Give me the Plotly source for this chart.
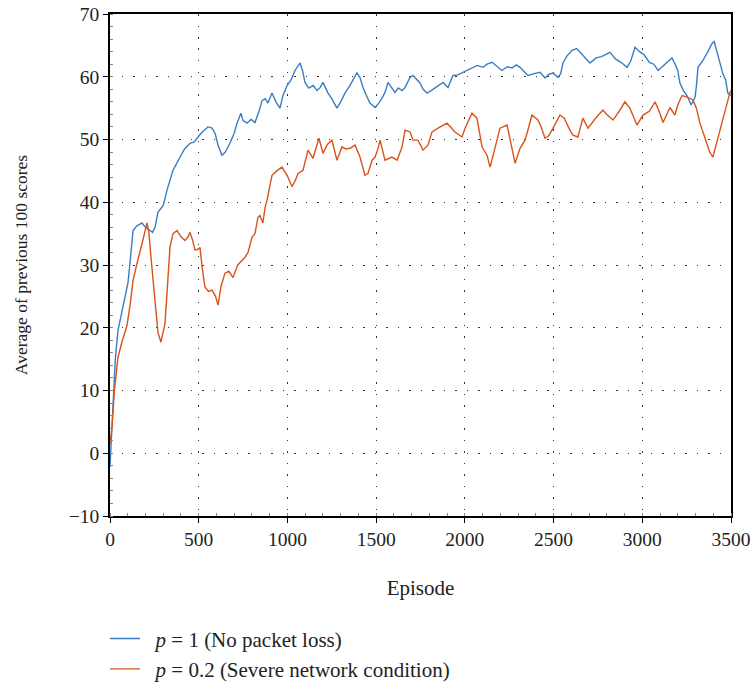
import plotly.graph_objects as go

# p = 1 (No packet loss)
blue_ep = [0, 10, 17, 30, 45, 73, 101, 115, 130, 150, 180, 200, 225, 240, 254, 270, 300, 321, 355, 395,
           420, 451, 475, 496, 520, 552, 575, 592, 610, 631, 650, 676, 700, 716, 738, 750, 772, 795, 817,
           840, 857, 875, 890, 913, 935, 958, 975, 998, 1020, 1043, 1060, 1071, 1085, 1099, 1120, 1145,
           1167, 1185, 1200, 1229, 1250, 1279, 1300, 1324, 1350, 1370, 1392, 1410, 1426, 1445, 1465, 1494,
           1515, 1533, 1550, 1567, 1585, 1606, 1625, 1646, 1663, 1680, 1691, 1708, 1730, 1747, 1765, 1787,
           1810, 1832, 1855, 1877, 1905, 1920, 1933, 1960, 1984, 2010, 2040, 2070, 2102, 2125, 2153, 2180,
           2209, 2240, 2266, 2290, 2311, 2335, 2356, 2390, 2424, 2452, 2475, 2497, 2525, 2540, 2553, 2575,
           2604, 2630, 2660, 2705, 2740, 2770, 2818, 2850, 2880, 2914, 2935, 2959, 2985, 3010, 3040, 3065,
           3089, 3120, 3145, 3167, 3185, 3200, 3212, 3232, 3252, 3275, 3297, 3305, 3314, 3342, 3370, 3393,
           3405, 3420, 3437, 3454, 3470, 3482, 3500]
blue_val = [-2.2, 3, 8.4, 15, 19.6, 23.3, 27.1, 31, 35.5, 36.2, 36.7, 36, 35.5, 35.2, 36, 38.4, 39.5, 41.9,
            45.1, 47.2, 48.5, 49.4, 49.6, 50.4, 51.2, 52, 51.8, 51, 49, 47.5, 48, 49.4, 51, 52.6, 54.2, 53,
            52.6, 53.2, 52.7, 54.5, 56.2, 56.5, 55.8, 57.4, 56, 55, 57, 58.6, 59.5, 61, 61.8, 62.2, 61, 59.1,
            58.2, 58.6, 57.8, 58.3, 59.1, 57.4, 56.5, 55, 56, 57.4, 58.5, 59.5, 60.6, 59.8, 58.3, 57, 55.8,
            55.1, 55.8, 56.6, 57.5, 59.1, 58.3, 57.5, 58.2, 57.8, 58.3, 59.3, 59.9, 60.2, 59.6, 59, 58, 57.4,
            57.8, 58.2, 58.6, 59.1, 58.3, 59.3, 60.2, 60.3, 60.6, 61, 61.4, 61.8, 61.5, 62, 62.3, 61.6, 61,
            61.6, 61.4, 61.9, 61.5, 60.8, 60.2, 60.5, 60.7, 59.8, 60.4, 60.6, 59.9, 60.5, 62.2, 63.3, 64.2,
            64.5, 63.6, 62.2, 63, 63.2, 63.9, 62.8, 62.3, 61.5, 62.5, 64.7, 64, 63.5, 62.3, 62, 61, 61.8,
            62.5, 63, 62, 61, 59, 57.8, 57, 55.5, 56.7, 58.5, 61.5, 62.6, 64, 65.3, 65.6, 64.2, 62.3, 60.5,
            59.5, 57.4, 57]

# p = 0.2 (Severe network condition)
orange_ep = [0, 11, 25, 45, 70, 96, 115, 130, 150, 169, 190, 208, 220, 231, 245, 254, 270, 287, 300, 310,
             320, 338, 355, 378, 400, 423, 440, 451, 465, 479, 495, 507, 520, 535, 555, 575, 595, 609, 625,
             648, 670, 693, 720, 744, 760, 778, 790, 800, 817, 834, 845, 862, 874, 885, 900, 913, 940, 969,
             998, 1026, 1045, 1060, 1088, 1100, 1116, 1144, 1160, 1178, 1200, 1225, 1251, 1279, 1307, 1330,
             1353, 1381, 1409, 1425, 1437, 1454, 1477, 1494, 1510, 1522, 1550, 1589, 1618, 1646, 1663, 1691,
             1708, 1736, 1764, 1792, 1815, 1849, 1875, 1899, 1920, 1944, 1984, 2001, 2020, 2040, 2068, 2085,
             2097, 2125, 2142, 2155, 2170, 2198, 2238, 2255, 2266, 2283, 2311, 2339, 2360, 2378, 2412, 2430,
             2452, 2470, 2491, 2536, 2560, 2581, 2592, 2609, 2637, 2665, 2694, 2740, 2778, 2800, 2835, 2870,
             2902, 2930, 2970, 3004, 3040, 3072, 3095, 3117, 3156, 3184, 3200, 3224, 3250, 3286, 3305, 3325,
             3345, 3365, 3380, 3398, 3420, 3440, 3454, 3470, 3494, 3500]
orange_val = [1.6, 4, 10, 15.3, 18, 20.4, 24, 27.6, 30, 32.4, 34.5, 36.7, 35, 31.2, 27, 23.3, 19.3, 17.7,
              19.5, 20.7, 25, 32.8, 35, 35.5, 34.5, 33.9, 34.5, 35.2, 34, 32.4, 32.5, 32.8, 29.5, 26.5, 25.8,
              26, 25, 23.6, 26.5, 28.7, 29, 28, 30, 30.8, 31.2, 32, 33.5, 34.4, 35, 37.6, 37.9, 36.7, 39.2,
              40.3, 42.5, 44.3, 45, 45.6, 44.3, 42.5, 43.5, 44.6, 45.1, 46.5, 48.3, 47, 48.5, 50.2, 47.8, 49.2,
              49.9, 46.7, 48.8, 48.5, 48.6, 49.1, 47.2, 45.5, 44.3, 44.6, 46.7, 47.2, 48.5, 49.9, 46.7, 47.2,
              46.7, 48.8, 51.5, 51.2, 49.9, 49.9, 48.3, 49.1, 51.2, 51.8, 52.2, 52.6, 52, 51.2, 50.4, 51.8, 53,
              54.2, 53.4, 51, 48.8, 47.5, 45.6, 47, 48.8, 51.8, 52.3, 50, 48.3, 46.2, 48.6, 49.9, 52, 53.9,
              53.1, 52, 50.2, 50.5, 51.5, 53.9, 53.4, 52, 51.5, 50.7, 50.4, 53.4, 51.8, 53.5, 54.7, 54, 53.1,
              54.5, 56, 55, 52.3, 53.9, 54.5, 56, 54.5, 52.7, 55.1, 53.9, 55.5, 57, 56.8, 56.3, 55, 52.6, 51,
              49.4, 48, 47.2, 49.5, 52, 53.5, 55, 57.5, 57.8]

x_ticks = [0, 500, 1000, 1500, 2000, 2500, 3000, 3500]
y_ticks = [-10, 0, 10, 20, 30, 40, 50, 60, 70]

FONT = "Liberation Serif, Times New Roman, serif"
TXT = "#222222"

fig = go.Figure()
fig.add_trace(go.Scatter(x=blue_ep, y=blue_val, mode="lines",
                         line=dict(color="#3a7dc3", width=1.4),
                         name="\u00a0\u00a0<i>p</i> = 1 (No packet loss)"))
fig.add_trace(go.Scatter(x=orange_ep, y=orange_val, mode="lines",
                         line=dict(color="#d9531a", width=1.4),
                         name="\u00a0\u00a0<i>p</i> = 0.2 (Severe network condition)"))

axis_common = dict(
    showline=True, linecolor="black", linewidth=1.5, mirror=True,
    ticks="outside", ticklen=5, tickcolor="black", tickwidth=1.2,
    showgrid=True, gridcolor="#333333", gridwidth=1, griddash="1.5px,10px",
    zeroline=False,
    tickfont=dict(family=FONT, size=19.5, color=TXT),
)

fig.update_xaxes(range=[0, 3500], tickvals=x_ticks, **axis_common,
                 minor=dict(ticks="inside", dtick=100, ticklen=3, tickcolor="#888888", showgrid=False),
                 title=dict(text="Episode", font=dict(family=FONT, size=21, color=TXT), standoff=31))
fig.update_yaxes(range=[-10, 70], tickvals=y_ticks, **axis_common,
                 ticktext=["\u221210"] + [str(v) for v in y_ticks[1:]],
                 minor=dict(ticks="inside", dtick=2, ticklen=3, tickcolor="#888888", showgrid=False),
                 title=dict(text="Average of previous 100 scores",
                            font=dict(family=FONT, size=17.5, color=TXT), standoff=37))

fig.update_layout(
    width=752, height=684,
    margin=dict(l=110, r=21, t=14, b=168, autoexpand=False),
    plot_bgcolor="white", paper_bgcolor="white",
    font=dict(family=FONT, size=17, color=TXT),
    legend=dict(x=-0.008, y=-0.204, xanchor="left", yanchor="top",
                font=dict(family=FONT, size=21, color=TXT),
                bgcolor="rgba(0,0,0,0)", tracegroupgap=0, itemwidth=30),
    showlegend=True,
)

fig.write_html("out.html", config={"displayModeBar": False},
               post_script="document.body.style.margin='0px';")
